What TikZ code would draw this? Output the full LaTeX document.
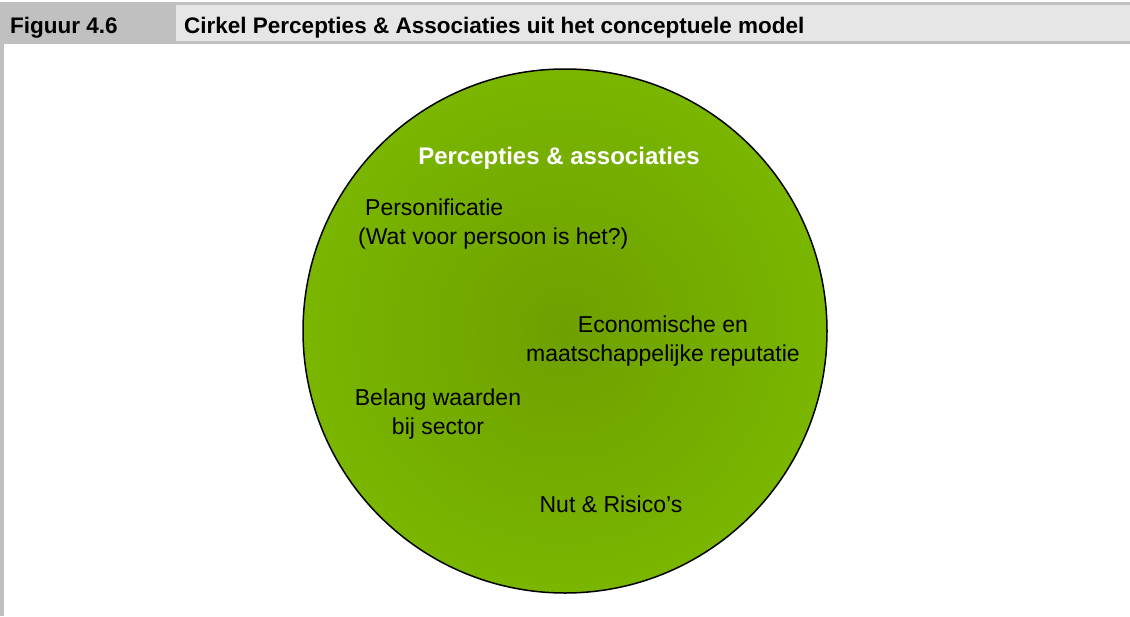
\documentclass[tikz,border=0pt]{standalone}
\usepackage{fontspec}
\setmainfont{Liberation Sans}
\usepackage{tikz}
\usetikzlibrary{positioning, shapes.geometric}
\usepackage{xcolor}
\definecolor{headgray}{RGB}{192,192,192}
\definecolor{headlight}{RGB}{230,230,230}
\definecolor{circlegreen}{RGB}{122,182,0}
\definecolor{circledark}{RGB}{110,160,0}
\tikzset{
  headtext/.style={inner sep=0pt, font=\fontsize{22.5}{26}\selectfont\bfseries},
  circlebox/.style={circle, draw=black, line width=1.5pt, inner sep=0pt,
    shading=radial, inner color=circledark, outer color=circlegreen},
  circletitle/.style={inner sep=0pt, text=white, font=\fontsize{24}{28}\selectfont\bfseries},
  itemtext/.style={inner sep=0pt, align=center, font=\fontsize{23}{28.5}\selectfont}
}

\begin{document}
\begin{tikzpicture}[x=1pt, y=-1pt]
  \useasboundingbox (0,0) rectangle (1130,616);

  % header bar
  \fill[headgray] (0,2) rectangle (1130,44);
  \node[fill=headlight, anchor=north west, inner sep=0pt,
        minimum width=954pt, minimum height=36pt] (titlecell) at (176,5) {};
  \node[headtext, anchor=base west] (fignum) at (10,33) {Figuur 4.6};
  \node[headtext, anchor=base west] (figtitle) at (184,33)
        {Cirkel Percepties \& Associaties uit het conceptuele model};
  % left rule
  \fill[headgray] (0,44) rectangle (4,616);

  % circle
  \node[circlebox, minimum size=524pt] (cirkel) at (565,331) {};
  \node[circletitle, anchor=base] (perc) at (559,164) {Percepties \& associaties};

  % items (base = last line)
  \node[itemtext, align=left, anchor=base west] (person) at (358,244)
        {\hspace*{7pt}Personificatie\\(Wat voor persoon is het?)};
  \node[itemtext, anchor=base] (econ) at (663,361)
        {Economische en\\maatschappelijke reputatie};
  \node[itemtext, anchor=base] (belang) at (438,434)
        {Belang waarden\\bij sector};
  \node[itemtext, anchor=base] (nut) at (611,512) {Nut \& Risico’s};
\end{tikzpicture}
\end{document}
